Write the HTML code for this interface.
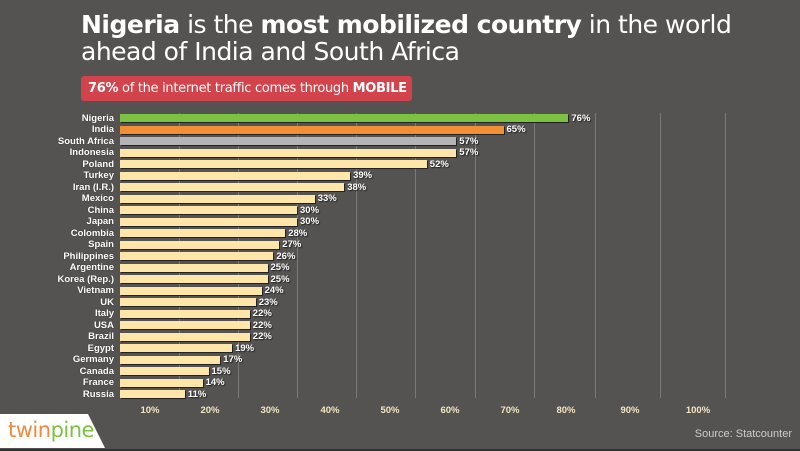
<!DOCTYPE html>
<html><head><meta charset="utf-8"><style>
body{margin:0;width:800px;height:451px;background:#545351;overflow:hidden;position:relative;font-family:"Liberation Sans",sans-serif}
.t{position:absolute;left:81px;color:#fff;font-family:"DejaVu Sans","Liberation Sans",sans-serif;font-size:25px;letter-spacing:-0.5px;white-space:nowrap}
.red{position:absolute;left:81px;top:76px;width:331px;height:25px;background:#d2434b;border-radius:3px;color:#fff;font-family:"DejaVu Sans",sans-serif;font-size:13px;line-height:25px;padding-left:7px;box-sizing:border-box;white-space:nowrap;letter-spacing:-0.3px}
.g{position:absolute;top:113px;width:1px;height:285px;background:#7a7977}
.lab{position:absolute;right:686px;font-size:9.5px;color:#fff;font-weight:bold;text-shadow:0 0 1px #222;white-space:nowrap;line-height:11px}
.bar{position:absolute;left:120px;height:8px;box-shadow:1px 1px 0 #222}
.v{position:absolute;font-size:9.5px;color:#fff;font-weight:bold;text-shadow:1px 1px 1px #222;line-height:11px}
.ax{position:absolute;top:405px;font-size:9.5px;color:#f4e6c0;font-weight:bold;transform:translateX(-50%)}
</style></head><body>
<div class="t" style="top:10px"><b>Nigeria</b> is the <b>most mobilized country</b> in the world</div>
<div class="t" style="top:37px">ahead of India and South Africa</div>
<div class="red"><b>76%</b> of the internet traffic comes through <b>MOBILE</b></div>
<div id="c"></div>
<div style="position:absolute;right:8px;top:428px;font-size:11px;color:#ccc">Source: Statcounter</div>
<svg style="position:absolute;left:0;top:414px" width="110" height="37"><polygon points="0,0 88,0 105,34 0,34" fill="#fff"/><rect x="0" y="35" width="800" height="2" fill="#333"/></svg>
<div style="position:absolute;left:8px;top:418px;font-size:21px;font-family:'DejaVu Sans',sans-serif;letter-spacing:-0.5px"><span style="color:#f08a3c">twin</span><span style="color:#7dc142">pine</span></div>
<div style="position:absolute;left:0;top:449px;width:800px;height:2px;background:#333"></div>
<script>
var d=[["Nigeria",76,"#7dc142"],["India",65,"#f18f34"],["South Africa",57,"#b4b4b4"],["Indonesia",57],["Poland",52],["Turkey",39],["Iran (I.R.)",38],["Mexico",33],["China",30],["Japan",30],["Colombia",28],["Spain",27],["Philippines",26],["Argentine",25],["Korea (Rep.)",25],["Vietnam",24],["UK",23],["Italy",22],["USA",22],["Brazil",22],["Egypt",19],["Germany",17],["Canada",15],["France",14],["Russia",11]];
var h="",gx=[179,238,297,356,415,475,534,595,660,725],lx=[150,210,270,330,390,450,510,566,630,698];
gx.forEach(function(x){h+='<div class="g" style="left:'+x+'px"></div>'});
d.forEach(function(r,i){var y=114+i*11.5,w=r[1]*5.9;
h+='<div class="lab" style="top:'+(y-1.5)+'px">'+r[0]+'</div>';
h+='<div class="bar" style="top:'+y+'px;width:'+w+'px;background:'+(r[2]||"#fde6a8")+'"></div>';
h+='<div class="v" style="top:'+(y-1.5)+'px;left:'+(123+w)+'px">'+r[1]+'%</div>';});
lx.forEach(function(x,i){h+='<div class="ax" style="left:'+x+'px">'+(i+1)*10+'%</div>'});
document.getElementById("c").innerHTML=h;
</script>
</body></html>
